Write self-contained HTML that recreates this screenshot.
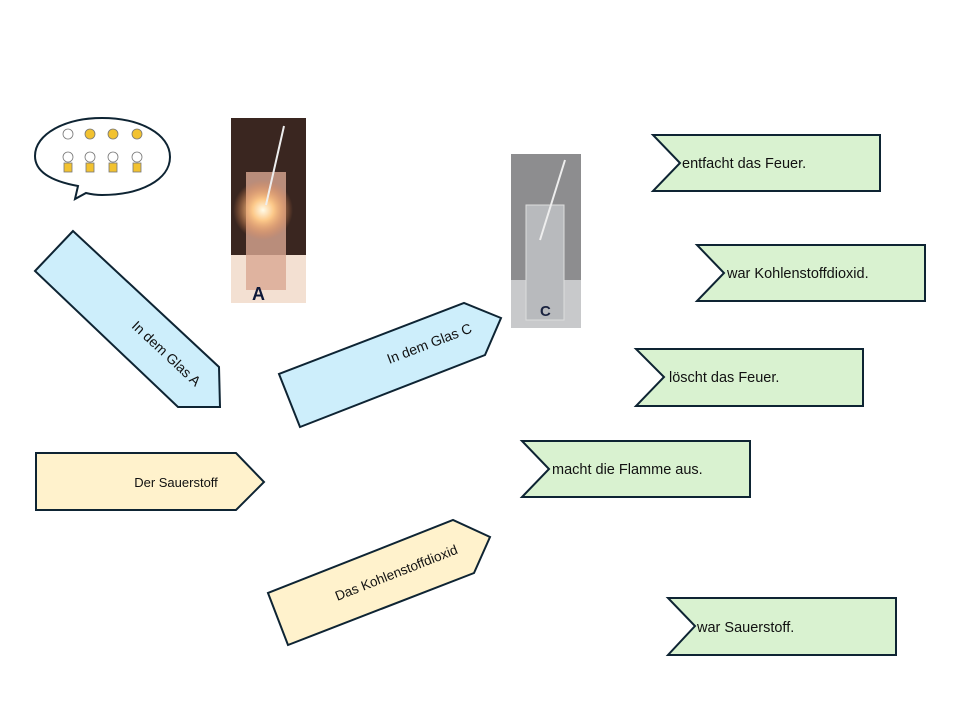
<!DOCTYPE html>
<html><head><meta charset="utf-8"><style>
html,body{margin:0;padding:0;background:#fff;}
svg{display:block;font-family:"Liberation Sans",sans-serif;}
</style></head><body>
<svg width="960" height="720" viewBox="0 0 960 720" xmlns="http://www.w3.org/2000/svg">
<defs>
<radialGradient id="glow" cx="0.5" cy="0.5" r="0.5">
<stop offset="0" stop-color="#fffbe8"/><stop offset="0.35" stop-color="#fcc98a"/><stop offset="1" stop-color="#f08a50" stop-opacity="0"/>
</radialGradient>
</defs>
<!-- speech bubble -->
<path d="M75,199 L78,186 C45,180 35,168 35,156 C35,134 65,118 102,118 C140,118 170,134 170,157 C170,180 140,195 102,195 C95,195 90,194 86,193 Z" fill="#fff" stroke="#0e2433" stroke-width="2"/>
<g fill="#f2c230" stroke="#777" stroke-width="0.8">
<circle cx="68" cy="134" r="5" fill="#fff"/><circle cx="90" cy="134" r="5"/><circle cx="113" cy="134" r="5"/><circle cx="137" cy="134" r="5"/>
<circle cx="68" cy="157" r="5" fill="#fff"/><circle cx="90" cy="157" r="5" fill="#fff"/><circle cx="113" cy="157" r="5" fill="#fff"/><circle cx="137" cy="157" r="5" fill="#fff"/>
<rect x="64" y="163" width="8" height="9"/><rect x="86" y="163" width="8" height="9"/><rect x="109" y="163" width="8" height="9"/><rect x="133" y="163" width="8" height="9"/>
</g>
<!-- photo A -->
<rect x="231" y="118" width="75" height="185" fill="#3a2620"/>
<rect x="231" y="255" width="75" height="48" fill="#f3e0d2"/>
<rect x="246" y="172" width="40" height="118" fill="#d9a792" opacity="0.8"/>
<circle cx="263" cy="210" r="30" fill="url(#glow)"/>
<line x1="266" y1="205" x2="284" y2="126" stroke="#eee" stroke-width="2"/>
<text x="252" y="300" font-size="18" font-weight="bold" fill="#0e1a3a">A</text>
<!-- photo C -->
<rect x="511" y="154" width="70" height="174" fill="#8d8d8f"/>
<rect x="511" y="280" width="70" height="48" fill="#c8c9cb"/>
<rect x="526" y="205" width="38" height="115" fill="#b8babd" stroke="#ddd"/>
<line x1="540" y1="240" x2="565" y2="160" stroke="#eee" stroke-width="2"/>
<text x="540" y="316" font-size="15" font-weight="bold" fill="#1a2340">C</text>
<!-- blue A -->
<polygon points="73,231 35,271 178,407 220,407 219,367" fill="#cdeefb" stroke="#0e2433" stroke-width="2"/>
<text transform="translate(163,357) rotate(43)" text-anchor="middle" font-size="14" fill="#111">In dem Glas A</text>
<!-- blue C -->
<polygon points="279,374 300,427 485,355 501,318 464,303" fill="#cdeefb" stroke="#0e2433" stroke-width="2"/>
<text transform="translate(431,348) rotate(-21)" text-anchor="middle" font-size="14" fill="#111">In dem Glas C</text>
<!-- Der Sauerstoff -->
<polygon points="36,453 236,453 264,482 236,510 36,510" fill="#fff2cc" stroke="#0e2433" stroke-width="2"/>
<text x="176" y="487" text-anchor="middle" font-size="13" fill="#111">Der Sauerstoff</text>
<!-- Kohlenstoffdioxid -->
<polygon points="268,593 288,645 474,573 490,537 453,520" fill="#fff2cc" stroke="#0e2433" stroke-width="2"/>
<text transform="translate(398,577) rotate(-21.5)" text-anchor="middle" font-size="13.5" fill="#111">Das Kohlenstoffdioxid</text>
<!-- green -->
<g fill="#d9f2d0" stroke="#0e2433" stroke-width="2">
<polygon points="653,135 880,135 880,191 653,191 680,163"/>
<polygon points="697,245 925,245 925,301 697,301 724,273"/>
<polygon points="636,349 863,349 863,406 636,406 664,377"/>
<polygon points="522,441 750,441 750,497 522,497 549,469"/>
<polygon points="668,598 896,598 896,655 668,655 695,626"/>
</g>
<g font-size="14.5" fill="#111">
<text x="682" y="168">entfacht das Feuer.</text>
<text x="727" y="278">war Kohlenstoffdioxid.</text>
<text x="669" y="382">löscht das Feuer.</text>
<text x="552" y="474">macht die Flamme aus.</text>
<text x="697" y="632">war Sauerstoff.</text>
</g>
</svg>
</body></html>
